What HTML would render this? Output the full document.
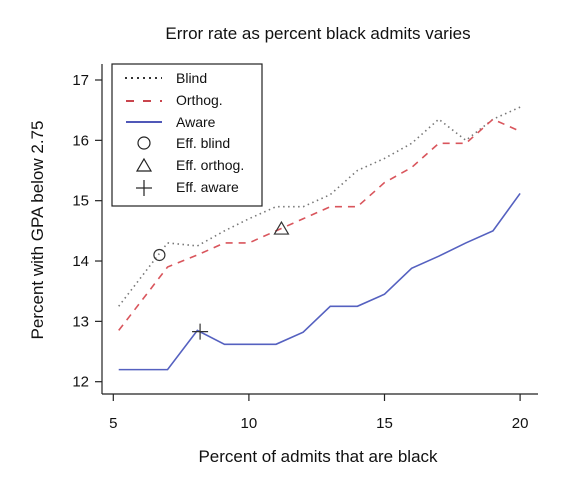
<!DOCTYPE html>
<html><head><meta charset="utf-8"><style>
body{margin:0;background:#fff}
svg text{font-family:"Liberation Sans",Arial,sans-serif;fill:#111}
</style></head><body>
<svg width="580" height="472" id="c">
<text x="318" y="39" font-size="17" text-anchor="middle">Error rate as percent black admits varies</text>
<text transform="translate(43,230) rotate(-90)" font-size="17" text-anchor="middle">Percent with GPA below 2.75</text>
<text x="318" y="462" font-size="17" text-anchor="middle">Percent of admits that are black</text>
<line x1="102" y1="64" x2="102" y2="394" stroke="#222" stroke-width="1.2"/>
<line x1="102" y1="394" x2="538" y2="394" stroke="#222" stroke-width="1.2"/>
<g id="ticks"></g>
<g id="series"></g>
<g>
<rect x="112" y="64" width="150" height="142" fill="#fff" stroke="#222" stroke-width="1.2"/>
<line x1="125" y1="78" x2="162" y2="78" stroke="#333" stroke-width="2" stroke-dasharray="2,4"/>
<text x="176" y="83" font-size="14">Blind</text>
<line x1="126" y1="101" x2="162" y2="101" stroke="#c9454d" stroke-width="2" stroke-dasharray="8,9"/>
<text x="176" y="105" font-size="14">Orthog.</text>
<line x1="126" y1="122" x2="162" y2="122" stroke="#5058b8" stroke-width="2"/>
<text x="176" y="127" font-size="14">Aware</text>
<circle cx="144" cy="143" r="6" fill="none" stroke="#222" stroke-width="1.2"/>
<text x="176" y="148" font-size="14">Eff. blind</text>
<polygon points="144,159 151,171 137,171" fill="none" stroke="#222" stroke-width="1.2"/>
<text x="176" y="170" font-size="14">Eff. orthog.</text>
<line x1="144" y1="180" x2="144" y2="196" stroke="#222" stroke-width="1.2"/><line x1="136" y1="188" x2="152" y2="188" stroke="#222" stroke-width="1.2"/>
<text x="176" y="192" font-size="14">Eff. aware</text>
</g>
</svg>
<script>
const xVals=[5.2,7,8.1,9.1,10,11,12,13,14,15,16,17,18,19,20];
const blind=[13.25,14.3,14.25,14.5,14.7,14.9,14.9,15.1,15.5,15.7,15.95,16.35,16.0,16.35,16.55];
const orthog=[12.85,13.9,14.1,14.3,14.3,14.5,14.7,14.9,14.9,15.3,15.55,15.95,15.95,16.35,16.15];
const aware=[12.2,12.2,12.85,12.62,12.62,12.62,12.82,13.25,13.25,13.45,13.88,14.08,14.3,14.5,15.12];
const xTicks=[5,10,15,20];
const yTicks=[12,13,14,15,16,17];
const effBlind=[6.7,14.1],effOrthog=[11.2,14.53],effAware=[8.2,12.83];
const X=v=>113.3+(v-5)*27.12, Y=v=>381.7-(v-12)*60.34;
const NS="http://www.w3.org/2000/svg";
const mk=(t,a,p)=>{const e=document.createElementNS(NS,t);for(const k in a)e.setAttribute(k,a[k]);p.appendChild(e);return e;};
const tg=document.getElementById('ticks'),sg=document.getElementById('series');
xTicks.forEach(v=>{const l=mk('line',{x1:X(v),x2:X(v),y1:394,y2:401,stroke:'#222','stroke-width':1.2},tg);


const t=mk('text',{x:X(v),y:428,'font-size':15,'text-anchor':'middle'},tg);t.textContent=v;

});
yTicks.forEach(v=>{const l=mk('line',{x1:95,x2:102,y1:Y(v),y2:Y(v),stroke:'#222','stroke-width':1.2},tg);


const t=mk('text',{x:89,y:Y(v)+5,'font-size':15,'text-anchor':'end'},tg);t.textContent=v;

});
function line(arr,st,dash,name){const p=mk('polyline',{points:arr.map((v,i)=>X(xVals[i])+','+Y(v)).join(' '),fill:'none',stroke:st,'stroke-width':1.6,'stroke-dasharray':dash},sg);

}
line(blind,'#777','1.5,3.5','blind-line');
line(orthog,'#d9555c','7,6','orthog-line');
line(aware,'#5561c0','none','aware-line');
const c=mk('circle',{cx:X(effBlind[0]),cy:Y(effBlind[1]),r:5.5,fill:'none',stroke:'#333','stroke-width':1.2},sg);


const tx=X(effOrthog[0]),ty=Y(effOrthog[1]);
const tr=mk('polygon',{points:`${tx},${ty-7} ${tx+7},${ty+5} ${tx-7},${ty+5}`,fill:'none',stroke:'#333','stroke-width':1.2},sg);


const px=X(effAware[0]),py=Y(effAware[1]);
const pl=mk('path',{d:`M${px-8},${py}H${px+8}M${px},${py-8}V${py+8}`,stroke:'#333','stroke-width':1.2},sg);


</script>
</body></html>
